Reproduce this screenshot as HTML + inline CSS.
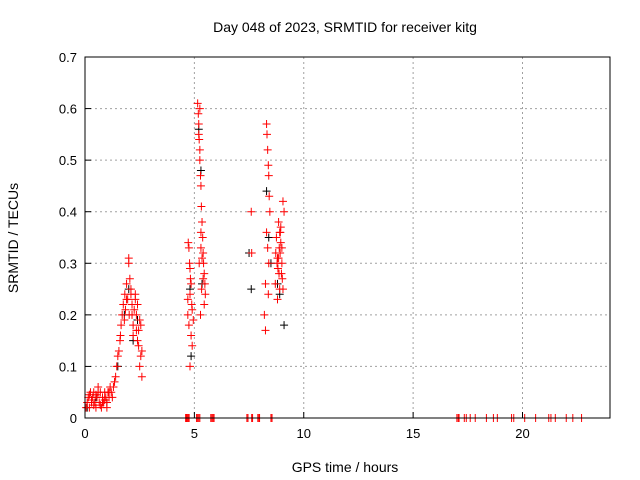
<!DOCTYPE html>
<html><head><meta charset="utf-8"><style>
body{margin:0;background:#fff;}
svg{display:block;font-family:"Liberation Sans",sans-serif;}
</style></head><body>
<svg id="chart" width="640" height="480">
<text x="345" y="32" font-size="14" text-anchor="middle">Day 048 of 2023, SRMTID for receiver kitg</text>
<text x="345" y="472" font-size="14" text-anchor="middle">GPS time / hours</text>
<text transform="translate(18,238) rotate(-90)" font-size="14" text-anchor="middle">SRMTID / TECUs</text>
<g id="grid"></g><g id="ticks"></g><g id="pts"></g>
<rect x="85" y="57" width="525" height="361" fill="none" stroke="#000" stroke-width="1"/>
</svg>
<script>
const xTicks=[0,5,10,15,20];
const yTicks=[0,0.1,0.2,0.3,0.4,0.5,0.6,0.7];
const yTickLabels=["0","0.1","0.2","0.3","0.4","0.5","0.6","0.7"];
const blackX=[0.1,0.5,1.0,1.8,2.0,2.2,2.4,4.8,4.85,5.2,5.3,5.35,7.5,7.6,8.3,8.4,8.5,8.8,8.9,9.1,0.3,1.5];
const blackY=[0.02,0.04,0.03,0.2,0.25,0.15,0.19,0.25,0.12,0.56,0.48,0.26,0.32,0.25,0.44,0.35,0.3,0.26,0.24,0.18,0.03,0.1];
const redX=[0.05,0.1,0.15,0.2,0.25,0.3,0.35,0.4,0.45,0.5,0.55,0.6,0.65,0.7,0.75,0.8,0.85,0.9,0.95,1.0,1.05,1.1,1.15,1.2,1.25,0.3,0.5,0.7,0.9,1.1,0.2,0.4,0.6,0.8,1.0,
1.3,1.35,1.4,1.45,1.5,1.55,1.6,1.62,1.65,1.7,1.75,1.8,1.82,1.85,1.9,1.95,2.0,2.02,2.05,2.1,2.15,2.2,2.25,2.3,2.35,2.4,2.45,2.5,2.55,2.6,2.0,2.1,2.2,2.3,2.4,2.5,2.6,2.55,1.9,2.15,2.35,2.45,
4.7,4.72,4.75,4.78,4.8,4.82,4.85,4.88,4.9,4.75,4.8,4.85,4.9,4.95,4.7,4.8,
5.15,5.18,5.2,5.22,5.25,5.28,5.3,5.32,5.35,5.38,5.4,5.42,5.45,5.48,5.5,5.2,5.25,5.3,5.35,5.4,5.45,5.22,5.28,5.33,5.25,5.3,
7.6,7.62,8.2,8.25,8.3,8.32,8.35,8.38,8.4,8.42,8.45,8.3,8.35,8.4,8.25,8.38,
8.7,8.75,8.8,8.82,8.85,8.88,8.9,8.92,8.95,8.98,9.0,9.02,9.05,9.1,8.8,8.85,8.9,8.95,9.0,8.78,8.87,8.93,9.05,8.72,
4.6,4.64,4.68,4.72,4.76,5.1,5.15,5.2,5.25,5.75,5.8,5.85,5.9,7.4,7.45,7.66,7.62,7.9,7.95,7.98,8.5,8.55,17.0,17.06,17.1,17.34,17.43,17.61,17.84,18.35,18.67,18.85,19.5,19.6,20.1,20.6,21.2,21.3,21.5,22.0,22.3,22.7];
const redY=[0.02,0.03,0.04,0.02,0.05,0.03,0.04,0.05,0.03,0.02,0.04,0.06,0.03,0.05,0.02,0.04,0.03,0.05,0.04,0.03,0.05,0.04,0.06,0.05,0.04,0.035,0.045,0.025,0.035,0.05,0.045,0.025,0.05,0.03,0.02,
0.06,0.07,0.08,0.1,0.12,0.13,0.15,0.16,0.18,0.2,0.22,0.19,0.24,0.21,0.26,0.23,0.3,0.2,0.27,0.24,0.22,0.18,0.21,0.24,0.2,0.15,0.17,0.19,0.12,0.13,0.31,0.25,0.16,0.23,0.22,0.1,0.08,0.18,0.23,0.2,0.17,0.14,
0.2,0.34,0.18,0.3,0.24,0.27,0.16,0.22,0.14,0.33,0.29,0.26,0.21,0.19,0.23,0.1,
0.61,0.59,0.57,0.54,0.5,0.47,0.45,0.41,0.38,0.35,0.32,0.3,0.28,0.26,0.24,0.55,0.52,0.36,0.31,0.27,0.22,0.3,0.2,0.25,0.6,0.33,
0.4,0.32,0.2,0.26,0.57,0.55,0.52,0.49,0.47,0.43,0.4,0.36,0.33,0.3,0.17,0.24,
0.26,0.35,0.31,0.29,0.38,0.33,0.36,0.32,0.34,0.28,0.3,0.27,0.42,0.4,0.23,0.31,0.25,0.37,0.33,0.3,0.28,0.36,0.25,0.32,
0,0,0,0,0,0,0,0,0,0,0,0,0,0,0,0,0,0,0,0,0,0,0,0,0,0,0,0,0,0,0,0,0,0,0,0,0,0,0,0,0,0];
const NS="http://www.w3.org/2000/svg";
const X0=85,X1=610,Y0=418,Y1=57;
function sx(v){return X0+(v/24)*(X1-X0);}
function sy(v){return Y0-(v/0.7)*(Y0-Y1);}
function mk(t,a){const e=document.createElementNS(NS,t);for(const k in a)e.setAttribute(k,a[k]);return e;}
const grid=document.getElementById('grid'),ticks=document.getElementById('ticks'),pts=document.getElementById('pts');
xTicks.forEach(v=>{const x=sx(v);
 if(v>0){const g=mk('line',{x1:x,x2:x,y1:Y1,y2:Y0,stroke:'#a0a0a0','stroke-dasharray':'2,3'});
 
 grid.appendChild(g);}
 const t=mk('line',{x1:x,x2:x,y1:Y0,y2:Y0-6,stroke:'#000'});
 
 ticks.appendChild(t);
 const l=mk('text',{x:x,y:Y0+20,'font-size':13,'text-anchor':'middle'});l.textContent=v;
 
 ticks.appendChild(l);});
yTicks.forEach((v,i)=>{const y=sy(v);
 if(v>0&&v<0.7){const g=mk('line',{x1:X0,x2:X1,y1:y,y2:y,stroke:'#a0a0a0','stroke-dasharray':'2,3'});
 
 grid.appendChild(g);}
 const t=mk('line',{x1:X0,x2:X0+6,y1:y,y2:y,stroke:'#000'});
 
 ticks.appendChild(t);
 const l=mk('text',{x:X0-8,y:y+5,'font-size':13,'text-anchor':'end'});l.textContent=yTickLabels[i];
 
 ticks.appendChild(l);});
function plus(x,y,c,name){const p=mk('path',{d:`M${x-4},${y}h8M${x},${y-4}v8`,stroke:c,'stroke-width':1});
 
 pts.appendChild(p);}
blackX.forEach((v,i)=>plus(sx(v),sy(blackY[i]),'#000','black-point'));
redX.forEach((v,i)=>plus(sx(v),sy(redY[i]),'#f00','red-point'));
</script>
</body></html>
